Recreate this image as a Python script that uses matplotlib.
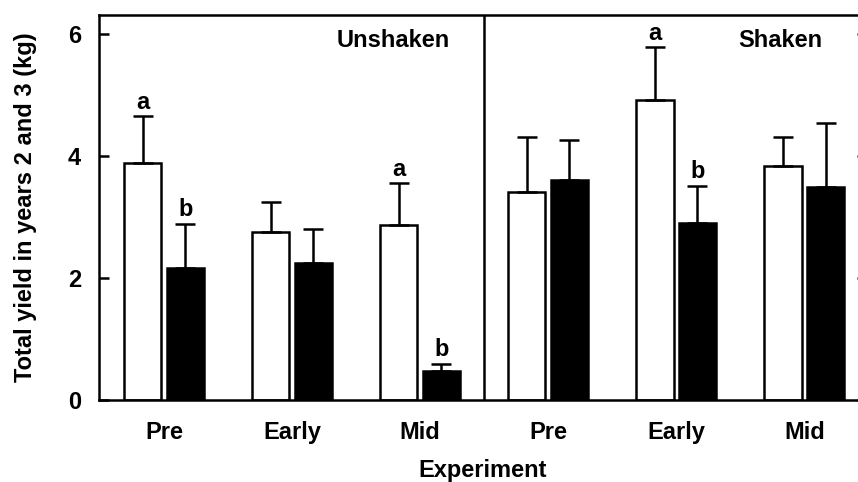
import numpy as np
import matplotlib
matplotlib.use("Agg")
import matplotlib.pyplot as plt

plt.rcParams['font.family'] = ['Liberation Sans', 'DejaVu Sans']
plt.rcParams['font.weight'] = 'bold'

categories = ['Pre', 'Early', 'Mid', 'Pre', 'Early', 'Mid']
open_means = [3.88, 2.75, 2.86, 3.41, 4.92, 3.84]
open_err = [0.77, 0.50, 0.69, 0.90, 0.86, 0.47]
black_means = [2.17, 2.25, 0.48, 3.61, 2.90, 3.49]
black_err = [0.72, 0.56, 0.11, 0.65, 0.61, 1.05]
open_letters = ['a', '', 'a', '', 'a', '']
black_letters = ['b', '', 'b', '', 'b', '']
panels = ['Unshaken', 'Shaken']

fig = plt.figure(figsize=(8.58, 4.82), dpi=100)
ax = fig.add_axes([99 / 858, 82 / 482, 768 / 858, 385 / 482])

x = np.arange(len(categories))
w = 0.29
off = 0.166
ekw = dict(elinewidth=1.8, capthick=1.8, capsize=7.5, ecolor='black')
ax.bar(x - off, open_means, w, color='white', edgecolor='black', linewidth=1.8,
       yerr=[np.zeros(6), open_err], error_kw=ekw, zorder=2)
ax.bar(x + off, black_means, w, color='black', edgecolor='black', linewidth=1.8,
       yerr=[np.zeros(6), black_err], error_kw=ekw, zorder=2)

for i in range(len(categories)):
    if open_letters[i]:
        ax.annotate(open_letters[i], (x[i] - off, open_means[i] + open_err[i]),
                    xytext=(0, 2), textcoords='offset points', ha='center',
                    va='bottom', fontsize=17, fontweight='bold')
    if black_letters[i]:
        ax.annotate(black_letters[i], (x[i] + off, black_means[i] + black_err[i]),
                    xytext=(0, 2), textcoords='offset points', ha='center',
                    va='bottom', fontsize=17, fontweight='bold')

ax.axvline(2.5, color='black', linewidth=1.8)
ax.text(2.23, 5.9, panels[0], ha='right', va='center', fontsize=17, fontweight='bold')
ax.text(5.14, 5.9, panels[1], ha='right', va='center', fontsize=17, fontweight='bold')

ax.set_xlim(-0.508, 5.49)
ax.set_ylim(0, 6.31)
ax.set_xticks(x)
ax.set_xticklabels(categories, fontsize=17, fontweight='bold')
ax.set_yticks([0, 2, 4, 6])
ax.set_yticklabels(['0', '2', '4', '6'], fontsize=17, fontweight='bold')
ax.tick_params(axis='x', length=0, pad=15)
ax.tick_params(axis='y', direction='in', length=7, width=1.8, right=True, pad=13)
for s in ax.spines.values():
    s.set_linewidth(1.8)

ax.set_xlabel('Experiment', fontsize=17, fontweight='bold', labelpad=11)
ax.set_ylabel('Total yield in years 2 and 3 (kg)', fontsize=17, fontweight='bold', labelpad=22)

fig.savefig('out.png', dpi=100)
